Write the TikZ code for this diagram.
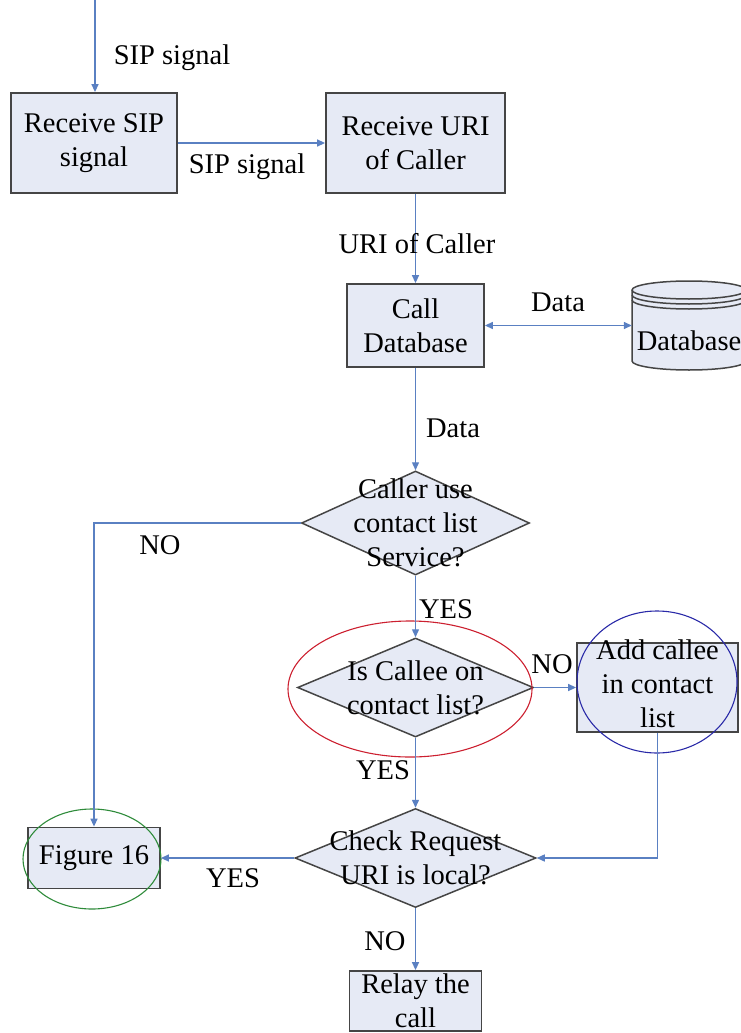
\documentclass[tikz,border=0pt]{standalone}
\usepackage{fontspec}
\setmainfont{Liberation Serif}
\usetikzlibrary{arrows.meta,shapes.geometric}
\definecolor{flowblue}{HTML}{5A80C2}
\definecolor{boxfill}{HTML}{E6EAF5}
\definecolor{boxline}{HTML}{454545}
\definecolor{ringred}{HTML}{CC2030}
\definecolor{ringblue}{HTML}{2A2AA8}
\definecolor{ringgreen}{HTML}{2E8B3A}
\begin{document}
\begin{tikzpicture}[x=1pt,y=-1pt,
  every node/.style={font=\fontsize{28.5}{34}\selectfont},
  procbox/.style={draw=boxline, line width=1.8pt, fill=boxfill, align=center, inner sep=0pt},
  decision/.style={diamond, draw=boxline, line width=1.5pt, fill=boxfill, inner sep=0pt},
  dtext/.style={align=center, inner sep=0pt},
  lbl/.style={anchor=base, inner sep=0pt},
  flow/.style={draw=flowblue, line width=1.4pt, -{Triangle[length=8pt,width=7pt]}},
  flowboth/.style={draw=flowblue, line width=1.4pt, {Triangle[length=8pt,width=7pt]}-{Triangle[length=8pt,width=7pt]}},
  ring/.style={line width=1.1pt},
  cyl/.style={draw=boxline, line width=1.5pt, fill=boxfill}
]
\useasboundingbox (0,0) rectangle (741,1033);
\clip (0,0) rectangle (741,1033);

% process boxes
\node[procbox, minimum width=166pt, minimum height=100pt] (recv) at (94,143) {Receive SIP\\signal};
\node[procbox, minimum width=179pt, minimum height=100pt] (uri) at (415.5,143) {Receive URI\\of Caller};
\node[procbox, minimum width=137pt, minimum height=83pt] (calldb) at (415.5,325.5) {Call\\Database};

% database cylinder
\filldraw[cyl] (632,290) -- (632,361) arc[start angle=180, end angle=0, x radius=57, y radius=9]
  -- (746,290) arc[start angle=0, end angle=-180, x radius=57, y radius=9] -- cycle;
\draw[cyl, fill=none] (632,290) arc[start angle=180, end angle=0, x radius=57, y radius=9];
\draw[cyl, fill=none] (632,295) arc[start angle=180, end angle=0, x radius=57, y radius=9];
\draw[cyl, fill=none] (632,300) arc[start angle=180, end angle=0, x radius=57, y radius=9];
\node[minimum width=114pt, minimum height=89pt, inner sep=0pt] (db) at (689,326) {};
\node[lbl] (dbtext) at (689,350) {Database};

% decisions
\node[decision, minimum width=228pt, minimum height=104pt] (usecl) at (415.5,523) {};
\node[dtext] (usecltext) at (usecl) {Caller use\\contact list\\Service?};
\node[decision, minimum width=236pt, minimum height=99pt] (oncl) at (415.5,687.5) {};
\node[dtext] (oncltext) at (oncl) {Is Callee on\\contact list?};
\node[decision, minimum width=241pt, minimum height=99pt] (chk) at (415.5,858) {};
\node[dtext] (chktext) at (chk) {Check Request\\URI is local?};

\node[procbox, minimum width=161pt, minimum height=89pt] (addc) at (657.5,687.5) {};
\node[dtext] (addctext) at (657.5,684) {Add callee\\in contact\\list};
\node[procbox, minimum width=132pt, minimum height=61pt] (fig) at (94,858) {Figure 16};
\node[procbox, minimum width=132pt, minimum height=60pt] (relay) at (415.5,1001) {Relay the\\call};

% highlight rings
\draw[ring, draw=ringred] (410,689) ellipse [x radius=122, y radius=68];
\draw[ring, draw=ringblue] (657,682) ellipse [x radius=80, y radius=71];
\draw[ring, draw=ringgreen] (92,859) ellipse [x radius=69, y radius=50];

% connectors
\coordinate (entry) at (95,0);
\draw[flow] (entry) -- (entry |- recv.north);
\draw[flow] (recv) -- (uri);
\draw[flow] (uri) -- (calldb);
\draw[flowboth] (calldb.east) -- (calldb.east -| db.west);
\draw[flow] (calldb) -- (usecl);
\draw[flow] (usecl.west) -| (fig.north);
\draw[flow] (usecl) -- (oncl);
\draw[flow] (oncl) -- (addc);
\draw[flow] (oncl) -- (chk);
\draw[flow] (addc.south) |- (chk.east);
\draw[flow] (chk) -- (fig);
\draw[flow] (chk) -- (relay);

% connector labels
\node[lbl] (l1) at (172,65) {SIP signal};
\node[lbl] (l2) at (247,173) {SIP signal};
\node[lbl] (l3) at (417,253) {URI of Caller};
\node[lbl] (l4) at (558,311) {Data};
\node[lbl] (l5) at (453,437) {Data};
\node[lbl] (l6) at (160,554) {NO};
\node[lbl] (l7) at (446,618) {YES};
\node[lbl] (l8) at (552,673) {NO};
\node[lbl] (l9) at (383,779) {YES};
\node[lbl] (l10) at (233,887) {YES};
\node[lbl] (l11) at (385,950) {NO};
\end{tikzpicture}
\end{document}
